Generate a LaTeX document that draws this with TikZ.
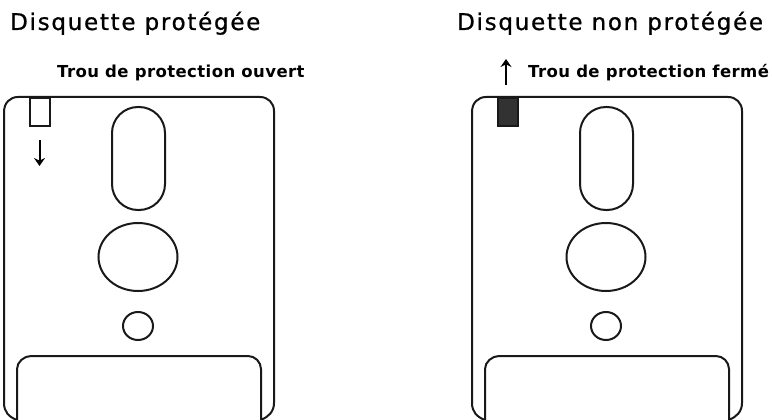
\documentclass[tikz,border=0pt]{standalone}
\usepackage{fontspec}
\setmainfont{DejaVu Sans}
\newfontfamily\titlefont[LetterSpace=7.5,FakeBold=0.8]{DejaVu Sans}
\newfontfamily\holefont[LetterSpace=2.5]{DejaVu Sans}
\usepackage{tikz}
\usetikzlibrary{arrows.meta,positioning}
\definecolor{notchGray}{RGB}{50,50,50}
\tikzset{
  diskline/.style={line width=2pt,black!90},
  titlelabel/.style={font=\titlefont\fontsize{23}{26}\selectfont,anchor=base west,inner sep=0pt},
  holelabel/.style={font=\holefont\bfseries\fontsize{16.5}{19}\selectfont,anchor=base west,inner sep=0pt},
  movearrow/.style={line width=2pt,-{Stealth[length=8pt,width=11pt]}}
}
\begin{document}
\begin{tikzpicture}[x=1pt,y=-1pt]
  \useasboundingbox (0,0) rectangle (772,420);
  % --- Titles and labels ---
  \node[titlelabel] (titleA) at (10,30) {Disquette protégée};
  \node[titlelabel] (titleB) at (457,30) {Disquette non protégée};
  \node[holelabel] (holeA) at (57,78) {Trou de protection ouvert};
  \node[holelabel] (holeB) at (528,78) {Trou de protection fermé};
  % --- Both disks: same outline, shifted ---
  \foreach \dx in {0,468} {
    \begin{scope}[xshift=\dx pt]
      % Shell and label cut-out
      \draw[diskline] (17,420) -- (17,369) .. controls (17,362) and (24,356) .. (31,356)
        -- (248,356) .. controls (255,356) and (261,362) .. (261,369) -- (261,420)
        .. controls (268,417) and (274,412) .. (274,403) -- (274,111)
        .. controls (274,103) and (268,97) .. (260,97) -- (18,97)
        .. controls (10,97) and (4,103) .. (4,112) -- (4,403)
        .. controls (4,412) and (9,417) .. (17,420);
      % Hub slot, hub and small hole
      \draw[diskline,rounded corners=26pt] (112,107) rectangle (165,210);
      \draw[diskline] (138,257) ellipse (39.5 and 34);
      \draw[diskline] (138,326) ellipse (15 and 14);
    \end{scope}
  }
  % --- Protection tab ---
  \draw[diskline] (30,98) rectangle (50,126);
  \draw[diskline,fill=notchGray] (498,98) rectangle (518,126);
  % Arrows
  \coordinate (openA) at (39.5,140);
  \coordinate (openB) at (39.5,166);
  \coordinate (shutA) at (506,85);
  \coordinate (shutB) at (506,59);
  \draw[movearrow] (openA) -- (openB);
  \draw[movearrow] (shutA) -- (shutB);
\end{tikzpicture}
\end{document}
